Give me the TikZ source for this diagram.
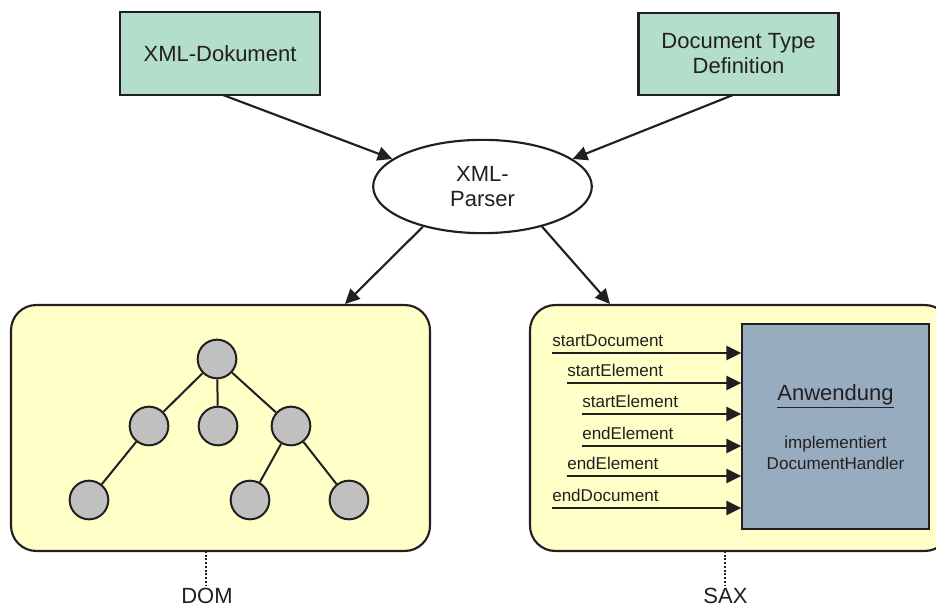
\documentclass[tikz,border=0pt]{standalone}
\usepackage{fontspec}
\setmainfont{Liberation Sans}
\usetikzlibrary{arrows.meta,shapes.geometric,calc}

\definecolor{inkc}{RGB}{35,31,32}
\definecolor{srcgreen}{RGB}{180,222,204}
\definecolor{paleyellow}{RGB}{255,255,200}
\definecolor{appblue}{RGB}{151,173,191}
\definecolor{treegray}{RGB}{192,192,192}

\tikzset{
  srcbox/.style={draw=inkc, line width=1.6pt, fill=srcgreen, rectangle,
    minimum width=150pt, minimum height=62pt, align=center, inner sep=0pt,
    font=\fontsize{16.5}{18.8}\selectfont, text=inkc},
  parserell/.style={draw=inkc, line width=1.6pt, fill=white, ellipse,
    minimum width=164pt, minimum height=70pt, inner sep=0pt, align=center,
    font=\fontsize{16.5}{18.8}\selectfont, text=inkc},
  modelbox/.style={draw=inkc, line width=1.6pt, fill=paleyellow, rectangle,
    rounded corners=19pt, minimum height=184.5pt, inner sep=0pt},
  treenode/.style={draw=inkc, line width=1.5pt, fill=treegray, circle,
    minimum size=29pt, inner sep=0pt},
  treeedge/.style={draw=inkc, line width=1.5pt},
  appbox/.style={draw=inkc, line width=1.6pt, fill=appblue, rectangle,
    minimum width=140pt, minimum height=153.75pt, inner sep=0pt},
  flow/.style={draw=inkc, line width=1.6pt,
    -{Triangle[length=11pt,width=10.5pt]}},
  evlabel/.style={anchor=base west, inner sep=0pt, text=inkc,
    font=\fontsize{12.8}{14}\selectfont},
  apptext/.style={inner sep=0pt, text=inkc, align=center},
  leader/.style={draw=inkc, line width=1.5pt, dash pattern=on 1.4pt off 1.4pt},
  apilabel/.style={anchor=base, inner sep=0pt, text=inkc,
    font=\fontsize{16.5}{18.8}\selectfont}
}

\begin{document}
\begin{tikzpicture}[x=0.75pt,y=-0.75pt]
\clip (0,0) rectangle (936,607);
\fill[white] (0,0) rectangle (936,607);

% inputs and parser
\node[srcbox] (xmldoc) at (220,53.5) {XML-Dokument};
\node[srcbox] (dtd) at (738.5,54) {Document Type\\Definition};
\node[parserell] (parser) at (482.5,186.5) {XML-\\Parser};

% the two processing models
\node[modelbox, minimum width=314.25pt] (dom) at (220.5,428) {};
\node[modelbox, minimum width=315pt] (sax) at (740,428) {};

\coordinate (xmlout) at (223,95);
\coordinate (dtdout) at (733,95);
\coordinate (domin) at (345,304);
\coordinate (saxin) at (610,304);

\draw[flow] (xmlout) -- (parser.163);
\draw[flow] (dtdout) -- (parser.17);
\draw[flow] (parser.214) -- (domin);
\draw[flow] (parser.326) -- (saxin);

% DOM tree
\node[treenode] (r) at (217,359) {};
\node[treenode] (a) at (149,426) {};
\node[treenode] (b) at (218,426) {};
\node[treenode] (c) at (291,426) {};
\node[treenode] (d) at (89,500) {};
\node[treenode] (e) at (250,500) {};
\node[treenode] (f) at (349,500) {};
\draw[treeedge] (r) -- (a);
\draw[treeedge] (r) -- (b);
\draw[treeedge] (r) -- (c);
\draw[treeedge] (a) -- (d);
\draw[treeedge] (c) -- (e);
\draw[treeedge] (c) -- (f);

% SAX application and event calls
\node[appbox] (app) at (835.5,426.5) {};
\node[apptext, font=\fontsize{16.5}{18.8}\selectfont] (appname) at (835.5,396) {\underline{Anwendung}};
\node[apptext, font=\fontsize{12.8}{15.5}\selectfont] (approle) at (835.5,453) {implementiert\\DocumentHandler};

\foreach \n/\x/\y/\t in {1/552/353/startDocument,
                         2/567/383/startElement,
                         3/582/414/startElement,
                         4/582/446/endElement,
                         5/567/476/endElement,
                         6/552/508/endDocument} {
  \coordinate (ev\n) at (\x,\y);
  \node[evlabel] (evl\n) at (\x,\y-7) {\t};
  \draw[flow] (ev\n) -- (ev\n -| app.west);
}

% captions with dotted leaders
\node[apilabel] (domlbl) at (207,603) {DOM};
\node[apilabel] (saxlbl) at (725.5,603) {SAX};
\coordinate (domtop) at (206,551);
\coordinate (saxtop) at (725,551);
\coordinate (domend) at (206,586);
\coordinate (saxend) at (725,586);
\draw[leader] (domtop) -- (domend);
\draw[leader] (saxtop) -- (saxend);
\end{tikzpicture}
\end{document}
